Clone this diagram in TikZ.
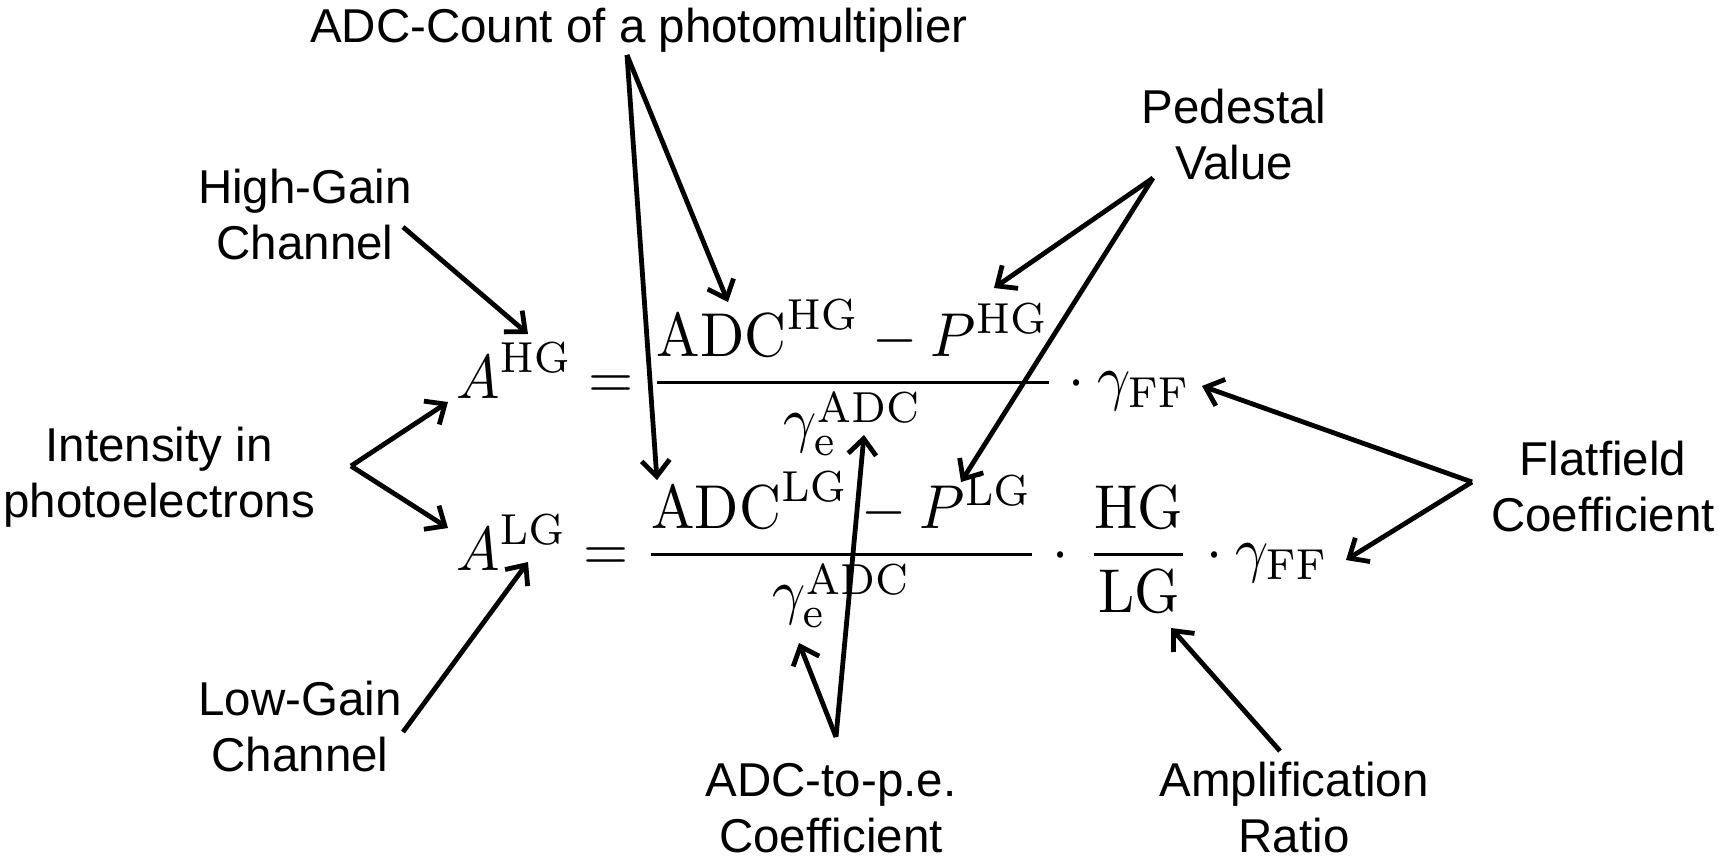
\documentclass[tikz,border=0pt]{standalone}
\usepackage[no-math]{fontspec}
\newfontfamily\labelfont{Liberation Sans}
\usetikzlibrary{arrows.meta}
\tikzset{
  eq/.style={inner sep=0pt, xscale=5.8, yscale=6.2, transform shape},
  lab/.style={inner sep=0pt, align=center, font=\labelfont\fontsize{47.5}{56}\selectfont},
  arr/.style={line width=4.8pt, -{Straight Barb[length=16pt,width=28pt]}}
}
\begin{document}
\begin{tikzpicture}[x=1pt,y=-1pt]
\useasboundingbox[fill=white] (0,0) rectangle (1719,860);
% equations
\node[eq, anchor=base west] (eqhg) at (455,398)
  {$\displaystyle A^{\mathrm{HG}} = \frac{\mathrm{ADC}^{\mathrm{HG}} - P^{\mathrm{HG}}}{\gamma_{\mathrm{e}}^{\mathrm{ADC}}} \cdot \gamma_{\mathrm{FF}}$};
\node[eq, anchor=base west] (eqlg) at (455,570)
  {$\displaystyle A^{\mathrm{LG}} = \frac{\mathrm{ADC}^{\mathrm{LG}} - P^{\mathrm{LG}}}{\gamma_{\mathrm{e}}^{\mathrm{ADC}}} \cdot\mkern2mu \frac{\mathrm{HG}}{\mathrm{LG}}\mkern1mu \cdot \gamma_{\mathrm{FF}}$};
% labels
\node[lab, anchor=base west] (adc) at (310,42) {ADC-Count of a photomultiplier};
\node[lab] (ped) at (1234,135) {Pedestal\\Value};
\node[lab] (hgc) at (305,215) {High-Gain\\Channel};
\node[lab] (int) at (159,477) {Intensity in\\photoelectrons};
\node[lab] (flat) at (1603,487) {Flatfield\\Coefficient};
\node[lab] (lgc) at (300,727) {Low-Gain\\Channel};
\node[lab] (coef) at (831,808) {ADC-to-p.e.\\Coefficient};
\node[lab] (amp) at (1294,808) {Amplification\\Ratio};
% arrow start points
\coordinate (sadc) at (627,55);
\coordinate (sped) at (1153,178);
\coordinate (shgc) at (403,227);
\coordinate (sint) at (351,466);
\coordinate (sflat) at (1472,482);
\coordinate (slgc) at (403,732);
\coordinate (scoef) at (836,737);
\coordinate (samp) at (1280,751);
% arrow targets
\coordinate (tadchg) at (728,302);
\coordinate (tadclg) at (657,480);
\coordinate (tphg) at (994,288);
\coordinate (tplg) at (961,482);
\coordinate (tahg) at (528,334);
\coordinate (tinthg) at (448,402);
\coordinate (tintlg) at (448,528);
\coordinate (tfhg) at (1202,386);
\coordinate (tflg) at (1346,560);
\coordinate (talg) at (528,562);
\coordinate (tghg) at (864,435);
\coordinate (tglg) at (799,643);
\coordinate (tratio) at (1171,628);
% arrows
\draw[arr] (sadc) -- (tadchg);
\draw[arr] (sadc) -- (tadclg);
\draw[arr] (sped) -- (tphg);
\draw[arr] (sped) -- (tplg);
\draw[arr] (shgc) -- (tahg);
\draw[arr] (sint) -- (tinthg);
\draw[arr] (sint) -- (tintlg);
\draw[arr] (sflat) -- (tfhg);
\draw[arr] (sflat) -- (tflg);
\draw[arr] (slgc) -- (talg);
\draw[arr] (scoef) -- (tghg);
\draw[arr] (scoef) -- (tglg);
\draw[arr] (samp) -- (tratio);
\end{tikzpicture}
\end{document}
